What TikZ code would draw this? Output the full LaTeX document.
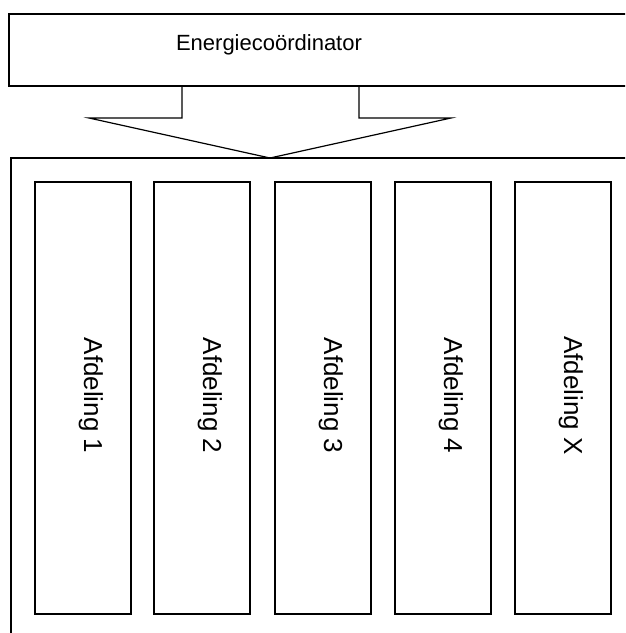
\documentclass[tikz,border=0pt]{standalone}
\usepackage{fontspec}
\setmainfont{Liberation Sans}

\tikzset{
	afdbox/.style={draw, line width=1.2pt, minimum width=96pt, minimum height=432pt, inner sep=0pt},
	afdtext/.style={rotate=-90, anchor=base, inner sep=0pt, font=\fontsize{26}{30}\selectfont}
}

\begin{document}
\begin{tikzpicture}[x=1pt, y=-1pt, line width=1.2pt]
		\useasboundingbox (0, 0) rectangle (625, 633);
		\clip (0, 0) rectangle (625, 633);

		% bovenste blok
		\draw (9, 14) rectangle (640, 86);
		\node[anchor=base, inner sep=0pt, font=\fontsize{22}{26}\selectfont] (coord) at (269, 50) {Energiecoördinator};

		% blokpijl naar beneden
		\coordinate (tip) at (270, 158);
		\draw (182, 86) -- (182, 118) -- (89, 118) -- (tip) -- (451, 118) -- (359, 118) -- (359, 86);

		% buitenste kader
		\draw (640, 158) -- (11, 158) -- (11, 640);

		% afdelingen
		\node[afdbox] (afd1) at (83, 398) {};
		\node[afdtext] (lab1) at ([xshift=1pt, yshift=2.5pt]afd1.center) {Afdeling 1};
		\node[afdbox] (afd2) at (202, 398) {};
		\node[afdtext] (lab2) at ([xshift=1pt, yshift=2.5pt]afd2.center) {Afdeling 2};
		\node[afdbox] (afd3) at (323, 398) {};
		\node[afdtext] (lab3) at ([xshift=1pt, yshift=2.5pt]afd3.center) {Afdeling 3};
		\node[afdbox] (afd4) at (443, 398) {};
		\node[afdtext] (lab4) at ([xshift=1pt, yshift=2.5pt]afd4.center) {Afdeling 4};
		\node[afdbox] (afdX) at (563, 398) {};
		\node[afdtext] (labX) at ([xshift=1pt, yshift=2.5pt]afdX.center) {Afdeling X};
\end{tikzpicture}
\end{document}
